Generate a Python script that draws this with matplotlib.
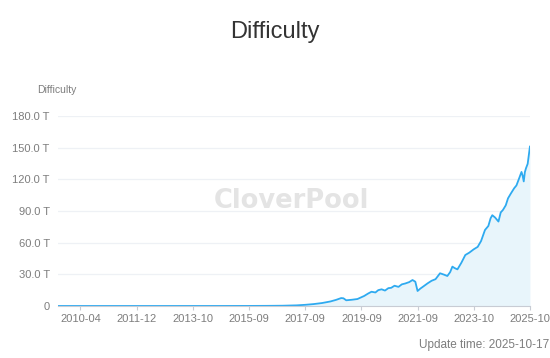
import matplotlib
matplotlib.use("Agg")
import matplotlib.pyplot as plt

# x position on the category axis (0 = first tick label), difficulty in T
x_pos = [-0.4, 0.0, 0.5, 1.0, 1.5, 2.0, 2.5, 3.0, 3.3, 3.6, 3.85, 4.0, 4.15, 4.3,
         4.45, 4.55, 4.64, 4.68, 4.73, 4.83, 4.93, 5.05, 5.12, 5.18, 5.25, 5.3,
         5.36, 5.42, 5.48, 5.53, 5.59, 5.66, 5.72, 5.78, 5.85, 5.91, 5.96, 6.0,
         6.05, 6.1, 6.18, 6.25, 6.32, 6.4, 6.47, 6.53, 6.58, 6.62, 6.66, 6.71,
         6.78, 6.85, 6.92, 7.0, 7.07, 7.13, 7.2, 7.26, 7.3, 7.33, 7.38, 7.44,
         7.48, 7.52, 7.57, 7.61, 7.66, 7.72, 7.76, 7.8, 7.85, 7.87, 7.89, 7.91,
         7.93, 7.96, 8.0]
difficulty = [0.0, 0.0, 0.0, 0.0, 0.0, 0.01, 0.02, 0.06, 0.12, 0.25, 0.6, 1.1, 1.8, 2.8,
              4.3, 5.8, 7.5, 7.3, 5.4, 5.9, 6.6, 9.5, 11.8, 13.5, 12.8, 15.0,
              15.8, 14.6, 16.9, 17.2, 19.2, 18.1, 20.5, 21.3, 22.6, 24.6, 23.0, 14.2,
              16.5, 18.4, 21.5, 23.9, 25.4, 31.0, 29.7, 28.4, 32.1, 37.3, 35.9, 34.7,
              41.0, 48.3, 50.5, 53.7, 56.0, 61.5, 72.0, 75.8, 83.1, 86.0, 83.8, 80.0,
              88.6, 91.0, 95.4, 102.0, 106.5, 111.6, 114.2, 119.8, 127.0, 123.5, 118.0, 126.8,
              130.5, 134.7, 151.0]

tick_labels = ["2010-04", "2011-12", "2013-10", "2015-09", "2017-09",
               "2019-09", "2021-09", "2023-10", "2025-10"]
y_ticks = [0, 30, 60, 90, 120, 150, 180]
y_labels = ["0", "30.0 T", "60.0 T", "90.0 T", "120.0 T", "150.0 T", "180.0 T"]

line_color = "#2eaaf0"
text_gray = "#7d7d7d"

plt.rcParams["font.family"] = ["Liberation Sans", "DejaVu Sans"]

fig = plt.figure(figsize=(5.5, 3.58), dpi=100)
ax = fig.add_axes([0.1055, 0.1453, 0.858, 0.5307])

ax.fill_between(x_pos, difficulty, 0, color="#e8f5fb", lw=0)
ax.plot(x_pos, difficulty, color=line_color, lw=1.3)

ax.set_xlim(-0.4, 8.0)
ax.set_ylim(0, 180)
ax.set_yticks(y_ticks)
ax.set_yticklabels(y_labels)
ax.set_xticks(range(len(tick_labels)))
ax.set_xticklabels(tick_labels)

ax.grid(axis="y", color="#eef1f5", lw=0.9)
ax.set_axisbelow(True)
for s in ["top", "right", "left"]:
    ax.spines[s].set_visible(False)
ax.spines["bottom"].set_color("#c8ccd4")
ax.tick_params(axis="y", length=0, labelsize=8, colors=text_gray, pad=6)
ax.tick_params(axis="x", length=3, color="#c8ccd4", labelsize=8, colors=text_gray, pad=3)

fig.text(0.5, 0.91, "Difficulty", ha="center", va="center", fontsize=17, color="#333333")
fig.text(0.068, 0.748, "Difficulty", ha="left", va="center", fontsize=7.5, color=text_gray)
fig.text(0.529, 0.439, "CloverPool", ha="center", va="center", fontsize=18.5,
         color="#e4e4e4", family="DejaVu Sans", fontweight="bold")
fig.text(0.998, 0.035, "Update time: 2025-10-17", ha="right", va="center",
         fontsize=8.5, color=text_gray)

fig.savefig("out.png", dpi=100)
